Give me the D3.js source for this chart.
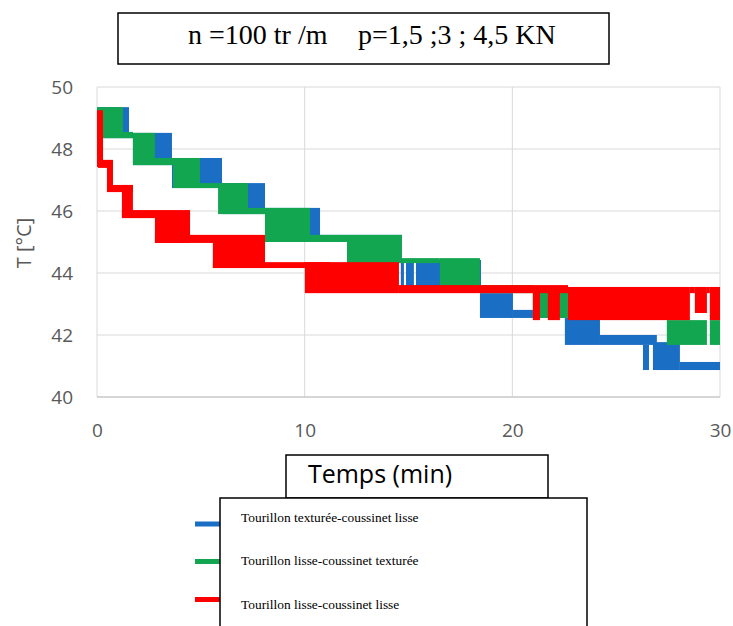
<!DOCTYPE html>
<html><head><meta charset="utf-8">
<script src="https://cdn.jsdelivr.net/npm/d3@7"></script>
<style>body{margin:0;background:#fff} svg{display:block}</style>
</head><body>
<svg id="c" width="733" height="626"></svg>
<script>
// ---- data ----
const xTicks = [0, 10, 20, 30];
const yTicks = [40, 42, 44, 46, 48, 50];
const seriesNames = ["Tourillon texturée-coussinet lisse", "Tourillon lisse-coussinet texturée", "Tourillon lisse-coussinet lisse"];
const seriesColors = ["#1a6fc4", "#12a650", "#ff0000"];
const titleParts = ["n =100 tr /m", "p=1,5 ;3 ; 4,5 KN"];
const xTitle = "Temps (min)";
const yTitle = "T [°C]";
// bands: [t start (min), t end (min), T low (°C), T high (°C)] — the signal oscillates densely inside each band
const blueBands = [
  [0, 1.54, 48.35, 49.35], [1.54, 1.73, 48.35, 48.55], [1.73, 3.61, 47.48, 48.52],
  [3.61, 6.02, 46.74, 47.71], [6.02, 8.09, 45.90, 46.90], [8.09, 10.74, 45.00, 46.10],
  [10.74, 12.04, 45.00, 45.23], [12.04, 14.68, 44.32, 45.23],
  [14.63, 14.78, 43.55, 44.42], [14.88, 15.26, 43.55, 44.42], [15.36, 18.49, 43.55, 44.42],
  [18.44, 20.03, 42.55, 43.35], [20.03, 22.53, 42.55, 42.81], [22.53, 24.22, 41.68, 42.55],
  [24.22, 26.96, 41.68, 42.00], [26.29, 26.58, 40.87, 41.68], [26.77, 28.07, 40.87, 41.77],
  [28.07, 30, 40.87, 41.13]
];
const greenBands = [
  [0, 1.25, 48.35, 49.35], [1.25, 1.73, 48.35, 48.55], [1.73, 2.79, 47.48, 48.52],
  [2.79, 3.66, 47.48, 47.71], [3.66, 4.96, 46.74, 47.71], [4.96, 5.83, 46.74, 46.90],
  [5.83, 7.27, 45.90, 46.90], [7.27, 8.09, 45.90, 46.10], [8.09, 10.26, 45.00, 46.10],
  [10.26, 12.04, 45.00, 45.23], [12.04, 14.68, 44.32, 45.23], [14.68, 16.51, 44.32, 44.48],
  [16.51, 18.44, 43.55, 44.48], [18.44, 20.99, 43.35, 43.61], [20.99, 27.44, 42.55, 43.45],
  [27.44, 29.37, 41.68, 42.48], [29.51, 30, 41.68, 42.48]
];
const redBands = [
  [0, 0.29, 47.42, 49.25], [0.05, 0.77, 47.39, 47.65], [0.48, 0.77, 46.68, 47.55],
  [0.48, 1.73, 46.61, 46.84], [1.20, 1.73, 45.81, 46.84], [1.20, 4.48, 45.77, 46.03],
  [2.79, 4.48, 44.97, 45.97], [2.79, 8.09, 44.97, 45.23], [5.58, 8.09, 44.16, 45.16],
  [5.58, 11.22, 44.16, 44.35], [10.01, 14.54, 43.35, 44.35], [14.54, 22.68, 43.35, 43.61],
  [20.99, 21.33, 42.48, 43.55], [21.71, 22.29, 42.48, 43.55], [22.68, 28.55, 42.48, 43.55],
  [28.55, 28.79, 43.35, 43.55], [28.79, 29.37, 42.71, 43.55], [29.37, 29.51, 43.35, 43.55],
  [29.51, 30, 42.48, 43.55]
];
const allBands = [blueBands, greenBands, redBands];

// ---- drawing ----
const svg = d3.select("#c");
const x = d3.scaleLinear().domain([0, 30]).range([97, 720]);
const y = d3.scaleLinear().domain([40, 50]).range([397, 87]);
const tickFont = "'Open Sans', sans-serif";

// gridlines
svg.append("g").selectAll("line.h").data(yTicks).join("line")
  .attr("x1", x(0)).attr("x2", x(30)).attr("y1", d => y(d)).attr("y2", d => y(d))
  .attr("stroke", "#d9d9d9").attr("stroke-width", 1);
svg.append("g").selectAll("line.v").data(xTicks).join("line")
  .attr("x1", d => x(d)).attr("x2", d => x(d)).attr("y1", y(40)).attr("y2", y(50))
  .attr("stroke", "#d9d9d9").attr("stroke-width", 1);

// series bands
allBands.forEach((bands, i) => {
  svg.append("g").selectAll("rect").data(bands).join("rect")
    .attr("x", d => x(d[0])).attr("width", d => x(d[1]) - x(d[0]))
    .attr("y", d => y(d[3])).attr("height", d => y(d[2]) - y(d[3]))
    .attr("fill", seriesColors[i]);
});

// bottom axis line
svg.append("line").attr("x1", x(0)).attr("x2", x(30)).attr("y1", y(40)).attr("y2", y(40))
  .attr("stroke", "#bfbfbf").attr("stroke-width", 1);

// axes (labels only)
const xa = svg.append("g").attr("transform", `translate(0,${y(40)})`)
  .call(d3.axisBottom(x).tickValues(xTicks).tickSize(0).tickPadding(27).tickFormat(d3.format("d")));
const ya = svg.append("g").attr("transform", `translate(${x(0)},0)`)
  .call(d3.axisLeft(y).tickValues(yTicks).tickSize(0).tickPadding(24).tickFormat(d3.format("d")));
[xa, ya].forEach(a => {
  a.select(".domain").remove();
  a.selectAll("text").attr("font-family", tickFont).attr("font-size", 19).attr("fill", "#595959");
});

// y title
svg.append("text").attr("transform", "translate(31,243) rotate(-90)")
  .attr("text-anchor", "middle").attr("font-family", tickFont).attr("font-size", 20)
  .attr("fill", "#595959").text(yTitle);

// title box
svg.append("rect").attr("x", 118).attr("y", 13).attr("width", 491).attr("height", 51)
  .attr("fill", "#fff").attr("stroke", "#000").attr("stroke-width", 1.5);
const tt = svg.append("text").attr("y", 44).attr("font-family", "'Liberation Serif', serif")
  .attr("font-size", 28).attr("fill", "#000");
tt.selectAll("tspan").data(titleParts).join("tspan")
  .attr("x", (d, i) => [188, 358][i]).text(d => d);

// x title box
svg.append("rect").attr("x", 286).attr("y", 455).attr("width", 262).attr("height", 43)
  .attr("fill", "#fff").attr("stroke", "#000").attr("stroke-width", 1.5);
svg.append("text").attr("x", 380).attr("y", 483).attr("text-anchor", "middle")
  .attr("font-family", tickFont).attr("font-size", 25).attr("fill", "#000").text(xTitle);

// legend
const legY = [524, 561.5, 599.5];
svg.append("g").selectAll("line").data(seriesNames).join("line")
  .attr("x1", 195).attr("x2", 222).attr("y1", (d, i) => legY[i]).attr("y2", (d, i) => legY[i])
  .attr("stroke", (d, i) => seriesColors[i]).attr("stroke-width", 5);
svg.append("rect").attr("x", 220).attr("y", 498).attr("width", 367).attr("height", 140)
  .attr("fill", "#fff").attr("stroke", "#000").attr("stroke-width", 1.5);
svg.append("g").selectAll("text").data(seriesNames).join("text")
  .attr("x", 241).attr("y", (d, i) => [521.5, 565, 609][i])
  .attr("font-family", "'Liberation Serif', serif").attr("font-size", 13.4).attr("fill", "#000")
  .text(d => d);
</script>
</body></html>
